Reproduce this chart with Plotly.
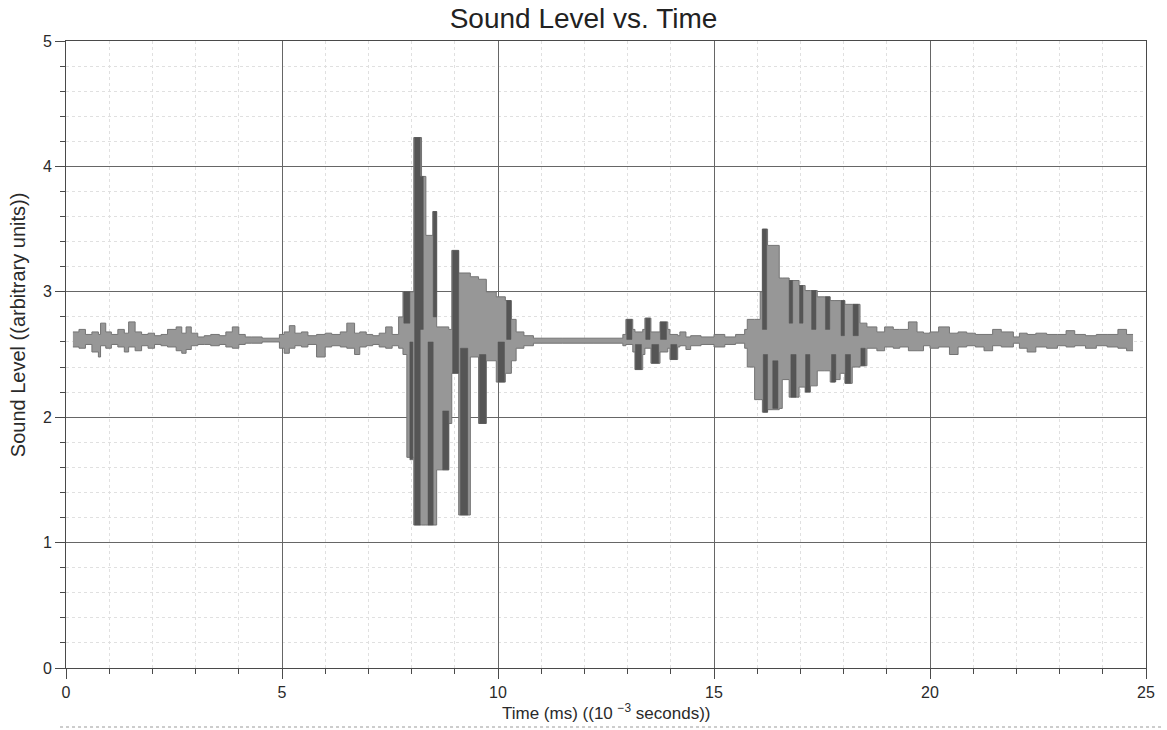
import plotly.graph_objects as go

# Envelope of the recorded signal: each segment starts at seg_start (ms)
# and holds its lower/upper sound level until the next segment starts.
seg_start = [
    0.16, 0.30, 0.45, 0.60, 0.75, 0.80, 0.92, 1.05, 1.20, 1.35, 1.45, 1.60, 1.75,
    1.90, 2.05, 2.20, 2.35, 2.55, 2.68, 2.78, 2.90, 3.05, 3.20, 3.35, 3.55, 3.70,
    3.85, 4.00, 4.15, 4.30, 4.54, 4.94, 5.05, 5.17, 5.30, 5.45, 5.60, 5.80, 6.00,
    6.15, 6.35, 6.50, 6.68, 6.80, 6.95, 7.10, 7.25, 7.40, 7.55,
    7.70, 7.80, 7.89, 8.05, 8.23, 8.33, 8.49, 8.58, 8.86, 8.93, 9.09, 9.36, 9.55,
    9.73, 9.96, 10.17, 10.31, 10.42, 10.60, 10.82, 11.50, 12.20,
    12.89, 12.96, 13.12, 13.17, 13.35, 13.40, 13.54, 13.75, 13.93, 13.98, 14.16,
    14.21, 14.35, 14.46, 14.70, 15.00, 15.25, 15.50,
    15.71, 15.77, 15.94, 16.07, 16.12, 16.24, 16.51, 16.58, 16.74, 16.97, 17.11,
    17.23, 17.39, 17.55, 17.69, 17.80, 17.92, 18.03, 18.20, 18.38, 18.54,
    18.77, 18.95, 19.15, 19.30, 19.50, 19.70, 19.85, 20.00, 20.20, 20.45, 20.65,
    20.85, 21.05, 21.25, 21.45, 21.65, 21.93, 22.07, 22.25, 22.45, 22.70, 22.95,
    23.15, 23.35, 23.60, 23.85, 24.10, 24.35, 24.55,
]
seg_end = 24.70

level_low = [
    2.56, 2.55, 2.58, 2.52, 2.48, 2.57, 2.55, 2.58, 2.56, 2.52, 2.56, 2.53, 2.57,
    2.55, 2.58, 2.57, 2.56, 2.53, 2.51, 2.54, 2.57, 2.58, 2.58, 2.57, 2.58, 2.56,
    2.55, 2.58, 2.59, 2.59, 2.60, 2.55, 2.51, 2.55, 2.57, 2.56, 2.58, 2.48, 2.56,
    2.57, 2.56, 2.55, 2.50, 2.56, 2.57, 2.58, 2.56, 2.55, 2.57,
    2.55, 2.50, 1.68, 1.14, 1.14, 1.14, 1.14, 1.58, 1.95, 2.35, 1.22, 2.48, 1.95,
    2.45, 2.28, 2.35, 2.45, 2.55, 2.57, 2.59, 2.59, 2.59,
    2.57, 2.58, 2.52, 2.38, 2.50, 2.55, 2.43, 2.52, 2.55, 2.46, 2.56,
    2.57, 2.54, 2.57, 2.58, 2.56, 2.58, 2.59,
    2.55, 2.40, 2.14, 2.14, 2.04, 2.06, 2.07, 2.30, 2.16, 2.24, 2.20,
    2.25, 2.37, 2.37, 2.28, 2.30, 2.35, 2.27, 2.40, 2.41, 2.55,
    2.53, 2.56, 2.55, 2.56, 2.53, 2.53, 2.57, 2.55, 2.56, 2.50, 2.56,
    2.57, 2.56, 2.53, 2.57, 2.56, 2.59, 2.55, 2.52, 2.56, 2.55, 2.57,
    2.56, 2.57, 2.55, 2.57, 2.56, 2.55, 2.53,
]
level_high = [
    2.68, 2.70, 2.66, 2.68, 2.66, 2.75, 2.68, 2.66, 2.70, 2.67, 2.76, 2.68, 2.66,
    2.67, 2.65, 2.66, 2.70, 2.72, 2.67, 2.72, 2.67, 2.64, 2.65, 2.66, 2.65, 2.68,
    2.72, 2.66, 2.64, 2.64, 2.63, 2.66, 2.68, 2.73, 2.67, 2.68, 2.65, 2.66, 2.67,
    2.66, 2.68, 2.75, 2.67, 2.68, 2.66, 2.65, 2.67, 2.72, 2.66,
    2.80, 3.00, 3.00, 4.23, 3.92, 3.45, 3.64, 2.72, 2.70, 3.33, 3.15, 3.12, 3.10,
    3.00, 2.96, 2.93, 2.78, 2.68, 2.65, 2.63, 2.63, 2.63,
    2.66, 2.78, 2.70, 2.68, 2.70, 2.79, 2.68, 2.76, 2.70, 2.66, 2.65,
    2.68, 2.64, 2.65, 2.64, 2.66, 2.64, 2.66,
    2.70, 2.78, 2.78, 3.00, 3.50, 3.37, 3.11, 3.11, 3.09, 3.05, 3.01,
    3.01, 2.96, 2.96, 2.93, 2.93, 2.93, 2.90, 2.90, 2.75, 2.72,
    2.68, 2.72, 2.70, 2.70, 2.76, 2.68, 2.67, 2.68, 2.72, 2.67, 2.68,
    2.67, 2.66, 2.66, 2.70, 2.68, 2.64, 2.67, 2.66, 2.67, 2.66, 2.66,
    2.69, 2.66, 2.65, 2.66, 2.66, 2.70, 2.66,
]

# Darker strokes where the waveform dwells: start (ms), end (ms), low, high
stroke_start = [7.82, 7.96, 8.07, 8.20, 8.38, 8.50, 8.72, 8.95, 9.13, 9.57, 10.00, 10.20,
                12.98, 13.18, 13.42, 13.56, 13.76, 14.00,
                16.12, 16.14, 16.36, 16.74, 16.78, 16.98, 17.12, 17.26, 17.58, 17.72,
                17.94, 18.04, 18.22, 18.40]
stroke_end = [7.96, 8.03, 8.20, 8.27, 8.50, 8.58, 8.86, 9.09, 9.30, 9.72, 10.15, 10.30,
              13.10, 13.32, 13.52, 13.72, 13.90, 14.14,
              16.22, 16.24, 16.48, 16.82, 16.90, 17.06, 17.22, 17.36, 17.68, 17.82,
              18.02, 18.16, 18.34, 18.50]
stroke_low = [2.75, 1.66, 1.14, 2.70, 1.14, 2.80, 1.58, 2.35, 1.22, 1.95, 2.28, 2.62,
              2.62, 2.38, 2.62, 2.43, 2.62, 2.46,
              2.70, 2.04, 2.07, 2.75, 2.16, 2.75, 2.20, 2.70, 2.70, 2.28,
              2.65, 2.27, 2.65, 2.41]
stroke_high = [3.00, 2.60, 4.23, 3.92, 2.60, 3.64, 2.05, 3.33, 2.55, 2.50, 2.60, 2.93,
               2.78, 2.58, 2.79, 2.58, 2.76, 2.58,
               3.50, 2.50, 2.45, 3.09, 2.50, 3.05, 2.50, 3.01, 2.96, 2.50,
               2.93, 2.50, 2.90, 2.55]

FONT = "Liberation Sans, Arial, sans-serif"
BAND_FILL = "#979797"
BAND_EDGE = "#747474"
STROKE = "#555555"

t_steps = seg_start + [seg_end]
low_steps = level_low + [level_low[-1]]
high_steps = level_high + [level_high[-1]]

fig = go.Figure()

fig.add_trace(go.Scatter(
    x=t_steps, y=low_steps, mode="lines", line_shape="hv",
    line=dict(color=BAND_EDGE, width=1), hoverinfo="skip", showlegend=False,
))
fig.add_trace(go.Scatter(
    x=t_steps, y=high_steps, mode="lines", line_shape="hv",
    line=dict(color=BAND_EDGE, width=1), fill="tonexty", fillcolor=BAND_FILL,
    hoverinfo="skip", showlegend=False,
))

# dark strokes as closed rectangles, one polygon per stroke
rect_x, rect_y = [], []
for a, b, lo, hi in zip(stroke_start, stroke_end, stroke_low, stroke_high):
    rect_x += [a, b, b, a, a, None]
    rect_y += [lo, lo, hi, hi, lo, None]
fig.add_trace(go.Scatter(
    x=rect_x, y=rect_y, mode="lines", fill="toself", fillcolor=STROKE,
    line=dict(color=STROKE, width=0.5), hoverinfo="skip", showlegend=False,
))

axis_common = dict(
    showline=True, linecolor="#4a4a4a", linewidth=1, mirror=True,
    showgrid=True, gridcolor="#666666", gridwidth=1,
    ticks="outside", ticklen=10, tickcolor="#4a4a4a", tickwidth=1,
    tickfont=dict(family=FONT, size=16, color="#2a2a2a"),
    zeroline=False,
)

fig.update_layout(
    width=1167, height=730,
    margin=dict(l=66, r=17, t=41, b=62),
    paper_bgcolor="white", plot_bgcolor="white",
    title=dict(text="Sound Level vs. Time", x=0.5, xanchor="center",
               y=1 - 18 / 730, yanchor="middle", yref="container",
               font=dict(family=FONT, size=28, color="#222222")),
    xaxis=dict(range=[0, 25], tick0=0, dtick=5,
               minor=dict(dtick=1, ticks="outside", ticklen=5, tickcolor="#4a4a4a",
                          showgrid=True, gridcolor="#e0e0e0", griddash="dot"),
               **axis_common),
    yaxis=dict(range=[0, 5], tick0=0, dtick=1,
               minor=dict(dtick=0.2, ticks="outside", ticklen=5, tickcolor="#4a4a4a",
                          showgrid=True, gridcolor="#e0e0e0", griddash="dot"),
               **axis_common),
    annotations=[
        dict(text="Time (ms) ((10 <sup>\u22123</sup> seconds))", xref="paper", yref="paper",
             x=0.5, y=(668 - 712) / 627, xanchor="center", yanchor="middle",
             showarrow=False, font=dict(family=FONT, size=17, color="#2a2a2a")),
        dict(text="Sound Level ((arbitrary units))", xref="paper", yref="paper",
             x=(18 - 66) / 1084, y=(668 - 325) / 627, xanchor="center", yanchor="middle",
             textangle=-90, showarrow=False,
             font=dict(family=FONT, size=20, color="#2a2a2a")),
    ],
    shapes=[
        dict(type="line", xref="paper", yref="paper",
             x0=(60 - 66) / 1084, x1=(1167 - 66) / 1084,
             y0=(668 - 727) / 627, y1=(668 - 727) / 627,
             line=dict(color="#9a9a9a", width=1, dash="dot")),
    ],
)

fig.write_html("out.html")
